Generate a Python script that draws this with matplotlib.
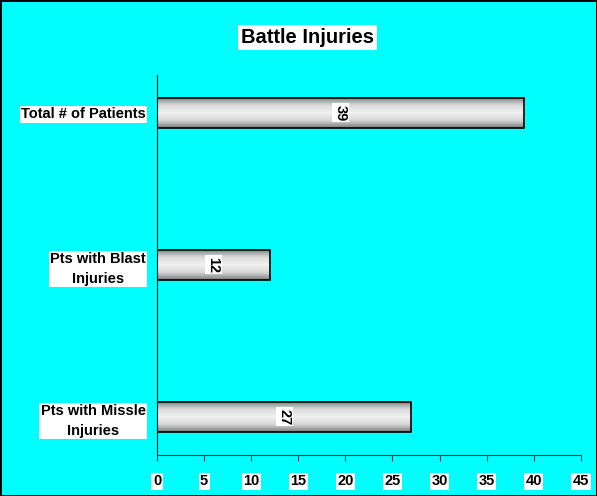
import numpy as np
import matplotlib.pyplot as plt
from matplotlib.colors import LinearSegmentedColormap

plt.rcParams['font.family'] = ['Liberation Sans', 'DejaVu Sans']

# data
categories = ['Pts with Missle\nInjuries', 'Pts with Blast\nInjuries', 'Total # of Patients']
values = [27, 12, 39]
xticks = [0, 5, 10, 15, 20, 25, 30, 35, 40, 45]

fig = plt.figure(figsize=(5.97, 4.96), dpi=100)
fig.patch.set_facecolor('#00FFFF')
fig.patch.set_edgecolor('black')
fig.patch.set_linewidth(1.0)

ax = fig.add_axes([0.263, 0.083, 0.71, 0.766])
ax.set_facecolor('#00FFFF')

pos = np.arange(len(categories))
bh = 0.2
bars = ax.barh(pos, values, height=bh, color='none', edgecolor='black', linewidth=1.2, zorder=3)

# gray metallic gradient inside each bar
cmap = LinearSegmentedColormap.from_list('metal', ['#7a7a7a', '#d8d8d8', '#f2f2f2', '#d8d8d8', '#7a7a7a'])
grad = np.linspace(0, 1, 256).reshape(-1, 1)
for b, y, v in zip(bars, pos, values):
    im = ax.imshow(grad, extent=[0, v, y - bh / 2, y + bh / 2], cmap=cmap,
                   aspect='auto', zorder=2, interpolation='bicubic')
    im.set_clip_path(b)
    ax.text(v / 2, y, str(v), rotation=-90, ha='center', va='center',
            fontsize=10.5, fontweight='bold', zorder=4,
            bbox=dict(facecolor='white', edgecolor='none', pad=1))

ax.set_xlim(0, 45)
ax.set_ylim(-0.25, 2.25)
ax.set_xticks(xticks)
ax.set_xticklabels([str(t) for t in xticks], fontsize=10.5, fontweight='bold')
ax.set_yticks(pos)
ax.set_yticklabels(categories, fontsize=10.5, fontweight='bold',
                   multialignment='center', linespacing=1.5)
for lab in ax.get_xticklabels() + ax.get_yticklabels():
    lab.set_bbox(dict(facecolor='white', edgecolor='none', pad=1))

ax.tick_params(axis='x', direction='out', length=4, pad=10, color='#004040')
ax.tick_params(axis='y', length=0, pad=8)
ax.spines['top'].set_visible(False)
ax.spines['right'].set_visible(False)
ax.spines['bottom'].set_color('#004040')

fig.text(0.515, 0.925, 'Battle Injuries', ha='center', va='center', fontsize=14.5,
         fontweight='bold', bbox=dict(facecolor='white', edgecolor='none', pad=2))

fig.savefig('out.png', dpi=100, facecolor=fig.get_facecolor(), edgecolor=fig.get_edgecolor())
